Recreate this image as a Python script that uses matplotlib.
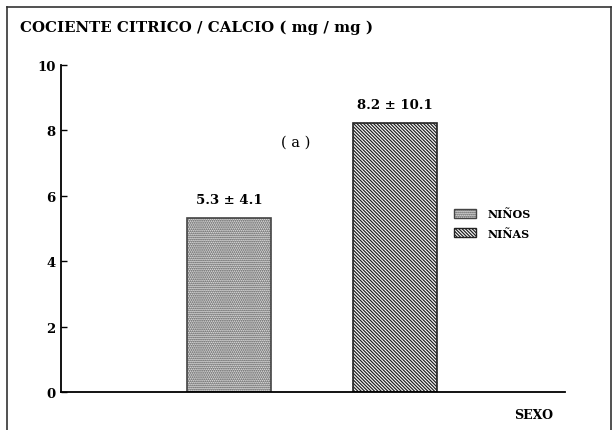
import numpy as np
import matplotlib.pyplot as plt
from matplotlib.patches import Patch
from matplotlib.lines import Line2D

plt.rcParams['font.family'] = ['DejaVu Serif']
plt.rcParams['hatch.linewidth'] = 0.9

# datos
sexos = ['NIÑOS', 'NIÑAS']
medias = [5.3, 8.2]
desvios = [4.1, 10.1]
etiquetas = ['5.3 ± 4.1', '8.2 ± 10.1']
ticks_y = [0, 2, 4, 6, 8, 10]

trama_ninos = '........'
trama_ninas = '\\' * 10

fig = plt.figure(figsize=(6.16, 4.31), dpi=100)
ax = fig.add_axes([0.099, 0.088, 0.818, 0.760])

x = np.arange(len(sexos))
barras = ax.bar(x, medias, width=0.505, color='white', edgecolor='#222222',
                linewidth=1.2)
barras[0].set_facecolor('#e6e6e6')
barras[0].set_hatch(trama_ninos)
barras[0].set_edgecolor('#444444')
barras[1].set_hatch(trama_ninas)

for xi, m, txt in zip(x, medias, etiquetas):
    ax.text(xi, m + 0.58, txt, ha='center', va='center', fontsize=9.5,
            fontweight='bold')

ax.text(0.4, 7.63, '( a )', ha='center', va='center', fontsize=10.5)

ax.set_xlim(-1.01, 2.02)
ax.set_ylim(0, 10)
ax.set_yticks(ticks_y)
ax.set_yticklabels([str(t) for t in ticks_y], fontsize=9.5, fontweight='bold')
ax.set_xticks([])
ax.tick_params(axis='y', direction='in', length=4, width=1, pad=4)
ax.spines['top'].set_visible(False)
ax.spines['right'].set_visible(False)
ax.spines['left'].set_linewidth(1.3)
ax.spines['bottom'].set_linewidth(1.3)

handles = [Patch(facecolor='#e6e6e6', edgecolor='#444444', hatch=trama_ninos),
           Patch(facecolor='white', edgecolor='#222222', hatch=trama_ninas)]
leg = ax.legend(handles, sexos, loc='upper left', bbox_to_anchor=(0.765, 0.585),
                frameon=False, prop={'size': 8, 'weight': 'bold'},
                handlelength=2.0, handleheight=0.8, labelspacing=0.75,
                handletextpad=1.0, borderpad=0.2)

fig.text(0.032, 0.935, 'COCIENTE CITRICO / CALCIO ( mg / mg )', fontsize=10.8,
         fontweight='bold', va='center')
fig.text(0.867, 0.035, 'SEXO', fontsize=9, fontweight='bold', ha='center',
         va='center')

# marco exterior
for xs, ys in [([0.011, 0.011], [0.0, 0.981]), ([0.011, 0.992], [0.981, 0.981]),
               ([0.992, 0.992], [0.981, 0.0])]:
    fig.add_artist(Line2D(xs, ys, transform=fig.transFigure, color='#333333',
                          linewidth=1.2))

fig.savefig('out.png', dpi=100)
